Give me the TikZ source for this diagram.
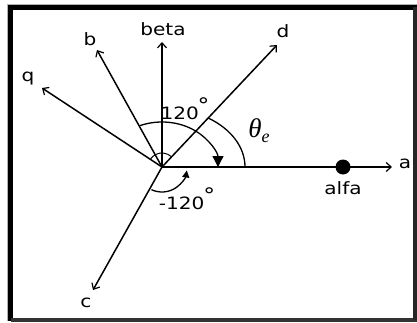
\documentclass[tikz,border=0pt]{standalone}
\usepackage{fontspec}
\setmainfont{DejaVu Sans}
\newfontfamily\thfont{Liberation Serif}
\usetikzlibrary{arrows.meta}
\tikzset{
  vec/.style={line width=1.5pt,-{Straight Barb[length=5pt,width=9pt,line width=1.2pt]}},
  lbl/.style={font=\fontsize{17}{19}\selectfont, xscale=1.18, inner sep=0pt},
  arcln/.style={line width=1.3pt},
}
\newcommand{\degsign}{\kern-1pt\raisebox{7pt}{\fontsize{20}{20}\selectfont °}}
\begin{document}
\begin{tikzpicture}[x=1pt,y=1pt]
\useasboundingbox (0,0) rectangle (417,322);
% frame
\draw[gray!60, line width=1pt] (7,1) -- (7,317.5) -- (417,317.5);
\draw[black, line width=5pt] (10.5,1) -- (10.5,314.5) -- (417,314.5);
\draw[black!80, line width=4pt] (10.5,2) -- (417,2);
\draw[black!85, line width=4pt] (415,2) -- (415,314.5);
% coordinates
\coordinate (O) at (162,155);
\coordinate (A) at (392,155);
\coordinate (Beta) at (162,280);
\coordinate (D) at (277,277);
\coordinate (B) at (97,272);
\coordinate (Q) at (42,234);
\coordinate (C) at (93,32);
% vectors
\draw[vec] (O) -- (A);
\draw[vec] (O) -- (Beta);
\draw[vec] (O) -- (D);
\draw[vec] (O) -- (B);
\draw[vec] (O) -- (Q);
\draw[vec] (O) -- (C);
% dot
\node[circle, fill=black, minimum size=15pt, inner sep=0pt] (dot) at (343,155) {};
% labels
\node[lbl] (la) at (405,158) {a};
\node[lbl] (lbeta) at (163,293) {beta};
\node[lbl] (ld) at (283,291) {d};
\node[lbl] (lb) at (90,283) {b};
\node[lbl] (lq) at (28,243) {q};
\node[lbl] (lc) at (86,19) {c};
\node[lbl] (lalfa) at (343,134) {alfa};
\node[lbl] (l120) at (185,213) {120\degsign};
\node[lbl] (lm120) at (187,123) {-120\degsign};
\node[inner sep=0pt] (lth) at (259,191) {\thfont\fontsize{27}{29}\selectfont\itshape θ\raisebox{-5pt}{\fontsize{18}{18}\selectfont e}};
% arcs
\draw[arcln, -{Triangle[length=11pt,width=11pt]}] (O) ++(113:56 and 45) arc[start angle=113, end angle=0, x radius=56, y radius=45];
\draw[arcln] (O) ++(56:83 and 59) arc[start angle=56, end angle=0, x radius=83, y radius=59];
\draw[arcln, -{Triangle[length=7pt,width=7pt]}] (O) ++(-115:25) arc[start angle=-115, end angle=-8, radius=25];
\draw[line width=1pt] (O) ++(145:14) arc[start angle=145, end angle=45, radius=14];
\end{tikzpicture}
\end{document}
